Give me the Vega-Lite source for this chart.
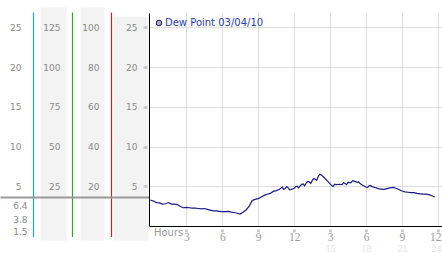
{
  "$schema": "https://vega.github.io/schema/vega-lite/v6.json",
  "width": 293,
  "height": 213,
  "autosize": {"type": "none"},
  "padding": {"left": 149, "top": 13, "right": 0, "bottom": 27},
  "background": "white",
  "config": {
    "view": {"stroke": null},
    "axis": {"labelFont": "DejaVu Sans", "labelFontSize": 9, "labelColor": "#8a8a8a", "labelFlush": false, "labelOverlap": false, "title": null}
  },
  "data": {"values": [
    {"hour": 0, "dew": 3.25, "series": "Dew Point 03/04/10"},
    {"hour": 0.25, "dew": 3.15, "series": "Dew Point 03/04/10"},
    {"hour": 0.5, "dew": 2.95, "series": "Dew Point 03/04/10"},
    {"hour": 0.75, "dew": 2.9, "series": "Dew Point 03/04/10"},
    {"hour": 1.0, "dew": 2.75, "series": "Dew Point 03/04/10"},
    {"hour": 1.25, "dew": 2.8, "series": "Dew Point 03/04/10"},
    {"hour": 1.5, "dew": 2.95, "series": "Dew Point 03/04/10"},
    {"hour": 1.75, "dew": 2.75, "series": "Dew Point 03/04/10"},
    {"hour": 2.0, "dew": 2.75, "series": "Dew Point 03/04/10"},
    {"hour": 2.25, "dew": 2.7, "series": "Dew Point 03/04/10"},
    {"hour": 2.5, "dew": 2.45, "series": "Dew Point 03/04/10"},
    {"hour": 2.75, "dew": 2.3, "series": "Dew Point 03/04/10"},
    {"hour": 3.0, "dew": 2.35, "series": "Dew Point 03/04/10"},
    {"hour": 3.25, "dew": 2.3, "series": "Dew Point 03/04/10"},
    {"hour": 3.5, "dew": 2.25, "series": "Dew Point 03/04/10"},
    {"hour": 3.75, "dew": 2.25, "series": "Dew Point 03/04/10"},
    {"hour": 4.0, "dew": 2.2, "series": "Dew Point 03/04/10"},
    {"hour": 4.25, "dew": 2.15, "series": "Dew Point 03/04/10"},
    {"hour": 4.5, "dew": 2.2, "series": "Dew Point 03/04/10"},
    {"hour": 4.75, "dew": 2.1, "series": "Dew Point 03/04/10"},
    {"hour": 5.0, "dew": 2.0, "series": "Dew Point 03/04/10"},
    {"hour": 5.25, "dew": 1.9, "series": "Dew Point 03/04/10"},
    {"hour": 5.5, "dew": 1.9, "series": "Dew Point 03/04/10"},
    {"hour": 5.75, "dew": 1.85, "series": "Dew Point 03/04/10"},
    {"hour": 6.0, "dew": 1.8, "series": "Dew Point 03/04/10"},
    {"hour": 6.25, "dew": 1.8, "series": "Dew Point 03/04/10"},
    {"hour": 6.5, "dew": 1.85, "series": "Dew Point 03/04/10"},
    {"hour": 6.75, "dew": 1.75, "series": "Dew Point 03/04/10"},
    {"hour": 7.0, "dew": 1.7, "series": "Dew Point 03/04/10"},
    {"hour": 7.25, "dew": 1.6, "series": "Dew Point 03/04/10"},
    {"hour": 7.5, "dew": 1.5, "series": "Dew Point 03/04/10"},
    {"hour": 7.75, "dew": 1.75, "series": "Dew Point 03/04/10"},
    {"hour": 8.0, "dew": 2.05, "series": "Dew Point 03/04/10"},
    {"hour": 8.25, "dew": 2.5, "series": "Dew Point 03/04/10"},
    {"hour": 8.5, "dew": 3.2, "series": "Dew Point 03/04/10"},
    {"hour": 8.75, "dew": 3.35, "series": "Dew Point 03/04/10"},
    {"hour": 9.0, "dew": 3.45, "series": "Dew Point 03/04/10"},
    {"hour": 9.25, "dew": 3.65, "series": "Dew Point 03/04/10"},
    {"hour": 9.5, "dew": 3.85, "series": "Dew Point 03/04/10"},
    {"hour": 9.75, "dew": 4.0, "series": "Dew Point 03/04/10"},
    {"hour": 10.0, "dew": 4.1, "series": "Dew Point 03/04/10"},
    {"hour": 10.25, "dew": 4.35, "series": "Dew Point 03/04/10"},
    {"hour": 10.5, "dew": 4.45, "series": "Dew Point 03/04/10"},
    {"hour": 10.75, "dew": 4.6, "series": "Dew Point 03/04/10"},
    {"hour": 11.0, "dew": 4.9, "series": "Dew Point 03/04/10"},
    {"hour": 11.125, "dew": 4.6, "series": "Dew Point 03/04/10"},
    {"hour": 11.25, "dew": 4.7, "series": "Dew Point 03/04/10"},
    {"hour": 11.375, "dew": 4.95, "series": "Dew Point 03/04/10"},
    {"hour": 11.5, "dew": 4.8, "series": "Dew Point 03/04/10"},
    {"hour": 11.625, "dew": 4.55, "series": "Dew Point 03/04/10"},
    {"hour": 11.75, "dew": 4.6, "series": "Dew Point 03/04/10"},
    {"hour": 12.0, "dew": 4.75, "series": "Dew Point 03/04/10"},
    {"hour": 12.125, "dew": 4.95, "series": "Dew Point 03/04/10"},
    {"hour": 12.25, "dew": 5.0, "series": "Dew Point 03/04/10"},
    {"hour": 12.375, "dew": 4.8, "series": "Dew Point 03/04/10"},
    {"hour": 12.5, "dew": 5.05, "series": "Dew Point 03/04/10"},
    {"hour": 12.625, "dew": 5.25, "series": "Dew Point 03/04/10"},
    {"hour": 12.75, "dew": 5.3, "series": "Dew Point 03/04/10"},
    {"hour": 12.875, "dew": 5.05, "series": "Dew Point 03/04/10"},
    {"hour": 13.0, "dew": 5.4, "series": "Dew Point 03/04/10"},
    {"hour": 13.125, "dew": 5.6, "series": "Dew Point 03/04/10"},
    {"hour": 13.25, "dew": 5.55, "series": "Dew Point 03/04/10"},
    {"hour": 13.375, "dew": 5.35, "series": "Dew Point 03/04/10"},
    {"hour": 13.5, "dew": 5.7, "series": "Dew Point 03/04/10"},
    {"hour": 13.625, "dew": 5.95, "series": "Dew Point 03/04/10"},
    {"hour": 13.75, "dew": 5.9, "series": "Dew Point 03/04/10"},
    {"hour": 13.875, "dew": 5.75, "series": "Dew Point 03/04/10"},
    {"hour": 14.0, "dew": 6.2, "series": "Dew Point 03/04/10"},
    {"hour": 14.125, "dew": 6.5, "series": "Dew Point 03/04/10"},
    {"hour": 14.25, "dew": 6.45, "series": "Dew Point 03/04/10"},
    {"hour": 14.5, "dew": 6.1, "series": "Dew Point 03/04/10"},
    {"hour": 14.75, "dew": 5.7, "series": "Dew Point 03/04/10"},
    {"hour": 15.0, "dew": 5.3, "series": "Dew Point 03/04/10"},
    {"hour": 15.25, "dew": 4.95, "series": "Dew Point 03/04/10"},
    {"hour": 15.375, "dew": 5.25, "series": "Dew Point 03/04/10"},
    {"hour": 15.5, "dew": 5.2, "series": "Dew Point 03/04/10"},
    {"hour": 15.75, "dew": 5.25, "series": "Dew Point 03/04/10"},
    {"hour": 16.0, "dew": 5.2, "series": "Dew Point 03/04/10"},
    {"hour": 16.125, "dew": 5.45, "series": "Dew Point 03/04/10"},
    {"hour": 16.25, "dew": 5.35, "series": "Dew Point 03/04/10"},
    {"hour": 16.375, "dew": 5.2, "series": "Dew Point 03/04/10"},
    {"hour": 16.5, "dew": 5.5, "series": "Dew Point 03/04/10"},
    {"hour": 16.75, "dew": 5.45, "series": "Dew Point 03/04/10"},
    {"hour": 16.875, "dew": 5.7, "series": "Dew Point 03/04/10"},
    {"hour": 17.0, "dew": 5.65, "series": "Dew Point 03/04/10"},
    {"hour": 17.25, "dew": 5.5, "series": "Dew Point 03/04/10"},
    {"hour": 17.375, "dew": 5.55, "series": "Dew Point 03/04/10"},
    {"hour": 17.5, "dew": 5.35, "series": "Dew Point 03/04/10"},
    {"hour": 17.75, "dew": 5.1, "series": "Dew Point 03/04/10"},
    {"hour": 18.0, "dew": 4.9, "series": "Dew Point 03/04/10"},
    {"hour": 18.125, "dew": 4.85, "series": "Dew Point 03/04/10"},
    {"hour": 18.25, "dew": 5.05, "series": "Dew Point 03/04/10"},
    {"hour": 18.375, "dew": 5.1, "series": "Dew Point 03/04/10"},
    {"hour": 18.5, "dew": 4.95, "series": "Dew Point 03/04/10"},
    {"hour": 18.75, "dew": 4.85, "series": "Dew Point 03/04/10"},
    {"hour": 19.0, "dew": 4.7, "series": "Dew Point 03/04/10"},
    {"hour": 19.25, "dew": 4.65, "series": "Dew Point 03/04/10"},
    {"hour": 19.5, "dew": 4.6, "series": "Dew Point 03/04/10"},
    {"hour": 19.75, "dew": 4.7, "series": "Dew Point 03/04/10"},
    {"hour": 20.0, "dew": 4.8, "series": "Dew Point 03/04/10"},
    {"hour": 20.25, "dew": 4.85, "series": "Dew Point 03/04/10"},
    {"hour": 20.5, "dew": 4.75, "series": "Dew Point 03/04/10"},
    {"hour": 20.75, "dew": 4.6, "series": "Dew Point 03/04/10"},
    {"hour": 21.0, "dew": 4.4, "series": "Dew Point 03/04/10"},
    {"hour": 21.25, "dew": 4.3, "series": "Dew Point 03/04/10"},
    {"hour": 21.5, "dew": 4.25, "series": "Dew Point 03/04/10"},
    {"hour": 21.75, "dew": 4.2, "series": "Dew Point 03/04/10"},
    {"hour": 22.0, "dew": 4.2, "series": "Dew Point 03/04/10"},
    {"hour": 22.25, "dew": 4.1, "series": "Dew Point 03/04/10"},
    {"hour": 22.5, "dew": 4.05, "series": "Dew Point 03/04/10"},
    {"hour": 22.75, "dew": 4.0, "series": "Dew Point 03/04/10"},
    {"hour": 23.0, "dew": 4.0, "series": "Dew Point 03/04/10"},
    {"hour": 23.25, "dew": 3.95, "series": "Dew Point 03/04/10"},
    {"hour": 23.5, "dew": 3.8, "series": "Dew Point 03/04/10"},
    {"hour": 23.75, "dew": 3.65, "series": "Dew Point 03/04/10"}
  ]},
  "layer": [
    {
      "transform": [{"filter": "datum.hour == 0"}],
      "mark": {"type": "rule", "opacity": 0},
      "encoding": {"y": {"field": "dew", "type": "quantitative",
        "scale": {"domain": [0, 1], "range": [227, -6], "nice": false, "zero": false},
        "axis": {"orient": "left", "offset": 96, "grid": false, "ticks": false, "labels": false, "domainColor": "#f3f3f3", "domainWidth": 26}}}
    },
    {
      "transform": [{"filter": "datum.hour == 0"}],
      "mark": {"type": "rule", "opacity": 0},
      "encoding": {"y": {"field": "dew", "type": "quantitative",
        "scale": {"domain": [0, 1], "range": [227, -6], "nice": false, "zero": false},
        "axis": {"orient": "left", "offset": 57, "grid": false, "ticks": false, "labels": false, "domainColor": "#f3f3f3", "domainWidth": 24}}}
    },
    {
      "transform": [{"filter": "datum.hour == 0"}],
      "mark": {"type": "rule", "opacity": 0},
      "encoding": {"y": {"field": "dew", "type": "quantitative",
        "scale": {"domain": [0, 1], "range": [227, 3], "nice": false, "zero": false},
        "axis": {"orient": "left", "offset": 18.5, "grid": false, "ticks": false, "labels": false, "domainColor": "#f3f3f3", "domainWidth": 35}}}
    },
    {
      "transform": [{"filter": "datum.hour == 0"}],
      "mark": {"type": "rule", "opacity": 0},
      "encoding": {"y": {"field": "dew", "type": "quantitative",
        "scale": {"domain": [-1.32, 26.92], "range": [223.5, -1], "nice": false, "zero": false},
        "axis": {"orient": "left", "offset": 116, "grid": false, "ticks": false, "values": [25, 20, 15, 10, 5], "labelPadding": 12, "domainColor": "#1ea6cf", "domainWidth": 1.2, "domainOpacity": 1}}}
    },
    {
      "transform": [{"filter": "datum.hour == 0"}],
      "mark": {"type": "rule", "opacity": 0},
      "encoding": {"y": {"field": "dew", "type": "quantitative",
        "scale": {"domain": [-6.6, 134.6], "range": [223.5, -1], "nice": false, "zero": false},
        "axis": {"orient": "left", "offset": 77, "grid": false, "ticks": false, "values": [125, 100, 75, 50, 25], "labelPadding": 12, "domainColor": "#2ea32e", "domainWidth": 1.2, "domainOpacity": 1}}}
    },
    {
      "transform": [{"filter": "datum.hour == 0"}],
      "mark": {"type": "rule", "opacity": 0},
      "encoding": {"y": {"field": "dew", "type": "quantitative",
        "scale": {"domain": [-5.28, 107.68], "range": [223.5, -1], "nice": false, "zero": false},
        "axis": {"orient": "left", "offset": 38, "grid": false, "ticks": false, "values": [100, 80, 60, 40, 20], "labelPadding": 12, "domainColor": "#c02828", "domainWidth": 1.2, "domainOpacity": 1}}}
    },
    {
      "transform": [{"filter": "datum.hour == 0"}],
      "mark": {"type": "rule", "opacity": 0},
      "encoding": {"y": {"field": "dew", "type": "quantitative",
        "scale": {"domain": [0, 8], "range": [227, 183.4], "nice": false, "zero": false},
        "axis": {"orient": "left", "offset": 0, "grid": false, "domain": false, "values": [7.93, 6.4, 3.8, 1.5],
          "ticks": true, "tickSize": 149, "tickWidth": 2, "tickColor": "#9a9a9a",
          "tickOpacity": {"condition": {"test": "datum.value < 7", "value": 0}, "value": 1},
          "labelExpr": "datum.value > 7 ? '' : format(datum.value, '.1f')", "labelPadding": -27}}}
    },
    {
      "mark": {"type": "rule", "opacity": 0},
      "transform": [{"filter": "datum.hour == 0"}],
      "encoding": {"x": {"field": "hour", "type": "quantitative",
        "scale": {"domain": [-0.12, 24.34], "nice": false, "zero": false},
        "axis": {"orient": "bottom", "values": [15, 18, 21, 24], "domain": false, "ticks": false, "grid": false,
          "labelColor": "#e2e2e2", "labelFont": "Liberation Sans Narrow", "labelFontSize": 10, "labelBaseline": "top", "labelPadding": 17.5,
          "labelAlign": {"condition": {"test": "datum.value == 24", "value": "right"}, "value": "center"},
          "labelOffset": {"condition": {"test": "datum.value == 24", "value": 3}, "value": 0}}}}
    },
    {
      "mark": {"type": "line", "strokeWidth": 1.2, "interpolate": "linear"},
      "encoding": {
        "x": {"field": "hour", "type": "quantitative",
          "scale": {"domain": [-0.12, 24.34], "nice": false, "zero": false},
          "axis": {"orient": "bottom", "values": [0, 3, 6, 9, 12, 15, 18, 21, 24],
            "grid": true, "gridColor": "#dddddd", "gridOpacity": {"condition": {"test": "datum.value == 0", "value": 0}, "value": 1},
            "domainColor": "#000000", "domainWidth": 1,
            "ticks": true, "tickSize": 6, "tickWidth": 3, "tickColor": "#cccccc", "tickDash": [0, 3, 3],
            "tickOpacity": {"condition": {"test": "datum.value == 0", "value": 0}, "value": 1},
            "labelExpr": "datum.value == 0 ? 'Hours' : (datum.value % 12 == 0 ? '12' : '' + (datum.value % 12))",
            "labelBaseline": "top",
            "labelAlign": {"condition": [{"test": "datum.value == 0", "value": "left"}, {"test": "datum.value == 24", "value": "right"}], "value": "center"},
            "labelFont": {"condition": {"test": "datum.value == 0", "value": "DejaVu Sans"}, "value": "Liberation Sans Narrow"},
            "labelFontSize": {"condition": {"test": "datum.value == 0", "value": 10}, "value": 11.5},
            "labelPadding": {"condition": {"test": "datum.value == 0", "value": -5}, "value": -0.5},
            "labelOffset": {"condition": [{"test": "datum.value == 0", "value": 3}, {"test": "datum.value == 24", "value": 3}], "value": 0},
            "labelColor": "#9a9a9a"}},
        "y": {"field": "dew", "type": "quantitative",
          "scale": {"domain": [0, 26.8], "nice": false, "zero": false},
          "axis": {"orient": "left", "offset": 0, "values": [5, 10, 15, 20, 25],
            "grid": true, "gridColor": "#dddddd",
            "domainColor": "#000000", "domainWidth": 1,
            "ticks": true, "tickSize": 6, "tickWidth": 3, "tickColor": "#cccccc", "tickDash": [0, 2, 4],
            "labelPadding": 6}},
        "color": {"field": "series", "type": "nominal",
          "scale": {"range": ["#1a1a8c"]},
          "legend": {"orient": "top-left", "offset": 5, "padding": 0, "title": null,
            "symbolType": "circle", "symbolSize": 30,
            "labelFont": "DejaVu Sans", "labelFontSize": 10, "labelColor": "#2b3bb0", "labelOffset": 1,
            "encode": {"symbols": {"update": {"fill": {"value": "#b0b0b0"}, "stroke": {"value": "#888888"}, "strokeWidth": {"value": 1}, "opacity": {"value": 1}}}}}}
      }
    }
  ],
  "resolve": {"scale": {"y": "independent"}, "axis": {"x": "independent", "y": "independent"}}
}
